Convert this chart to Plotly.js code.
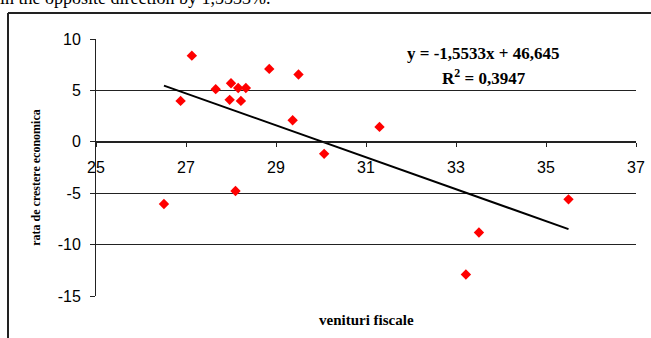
<!DOCTYPE html>
<html>
<head>
<meta charset="utf-8">
<script src="https://cdn.plot.ly/plotly-3.0.1.min.js"></script>
<style>
  html, body { margin: 0; padding: 0; background: #ffffff; }
  #chart { width: 651px; height: 338px; }
</style>
</head>
<body>
<div id="chart"></div>
<script>
// Fiscal revenues (% of GDP) vs. economic growth rate (%)
const venituriFiscale = [26.51, 26.88, 27.13, 27.66, 27.97, 28.00, 28.10, 28.16, 28.22,
                         28.33, 28.85, 29.37, 29.50, 30.07, 31.30, 33.22, 33.51, 35.50];
const rataCrestere    = [-6.05, 3.98, 8.38, 5.12, 4.08, 5.70, -4.79, 5.24, 3.98,
                         5.24, 7.09, 2.10, 6.54, -1.17, 1.45, -12.91, -8.83, -5.60];

// Linear trend as reported on the chart
const trendSlope = -1.5533;
const trendIntercept = 46.645;
const rSquared = 0.3947;

const xTicks = [25, 27, 29, 31, 33, 35, 37];
const yTicks = [-15, -10, -5, 0, 5, 10];

const fmt = (v, d) => v.toFixed(d).replace('.', ',');

const xMin = Math.min(...venituriFiscale);
const xMax = Math.max(...venituriFiscale);
const trendX = [xMin, xMax];
const trendY = trendX.map(x => trendSlope * x + trendIntercept);

// plot area in pixels: left 96, right 636, top 39, bottom 296.5
const L = 96, R = 636, T = 39, B = 296.5;
const px = v => (v - L) / (R - L);
const py = v => (B - v) / (B - T);

const serif = 'Liberation Serif, Times New Roman, serif';
const sans = 'Liberation Sans, Arial, sans-serif';

const traces = [
  {
    x: trendX, y: trendY, type: 'scatter', mode: 'lines',
    line: { color: '#000000', width: 2 }, hoverinfo: 'skip', showlegend: false
  },
  {
    x: venituriFiscale, y: rataCrestere, type: 'scatter', mode: 'markers',
    marker: { symbol: 'diamond', color: '#ff0000', size: 8 },
    showlegend: false
  }
];

const layout = {
  width: 651, height: 338,
  margin: { l: L, r: 651 - R, t: T, b: 338 - B, pad: 0 },
  paper_bgcolor: '#ffffff', plot_bgcolor: '#ffffff',
  font: { family: sans, color: '#000000', size: 16 },
  xaxis: {
    range: [25, 37], tickvals: xTicks, ticktext: xTicks.map(String),
    anchor: 'free', position: 15 / 25,
    showgrid: false, zeroline: false,
    showline: true, linecolor: '#222222', linewidth: 1,
    ticks: 'outside', ticklen: 4, tickcolor: '#222222',
    ticklabelstandoff: 7,
    tickfont: { family: sans, size: 16, color: '#000000' }
  },
  yaxis: {
    range: [-15, 10], tickvals: yTicks, ticktext: yTicks.map(String),
    showgrid: true, gridcolor: '#222222', gridwidth: 1,
    zeroline: false,
    showline: true, linecolor: '#222222', linewidth: 1,
    ticks: 'outside', ticklen: 5, tickcolor: '#222222',
    ticklabelstandoff: 6,
    tickfont: { family: sans, size: 16, color: '#000000' }
  },
  shapes: [
    // outer frame (top and left edges)
    { type: 'line', xref: 'paper', yref: 'paper', x0: px(8), x1: px(653), y0: py(13), y1: py(13),
      line: { color: '#222222', width: 2 } },
    { type: 'line', xref: 'paper', yref: 'paper', x0: px(8), x1: px(8), y0: py(13), y1: py(345),
      line: { color: '#222222', width: 2 } }
  ],
  annotations: [
    { xref: 'paper', yref: 'paper', x: px(483), y: py(54), xanchor: 'center', yanchor: 'middle',
      text: '<b>y = ' + fmt(trendSlope, 4) + 'x + ' + fmt(trendIntercept, 3) + '</b>',
      showarrow: false, font: { family: serif, size: 17, color: '#000000' } },
    { xref: 'paper', yref: 'paper', x: px(484), y: py(77), xanchor: 'center', yanchor: 'middle',
      text: '<b>R<sup>2</sup> = ' + fmt(rSquared, 4) + '</b>',
      showarrow: false, font: { family: serif, size: 17, color: '#000000' } },
    { xref: 'paper', yref: 'paper', x: px(366), y: py(321), xanchor: 'center', yanchor: 'middle',
      text: '<b>venituri fiscale</b>',
      showarrow: false, font: { family: serif, size: 15, color: '#000000' } },
    { xref: 'paper', yref: 'paper', x: px(36), y: py(178), xanchor: 'center', yanchor: 'middle',
      text: '<b>rata de crestere economica</b>', textangle: -90,
      showarrow: false, font: { family: serif, size: 12, color: '#000000' } },
    { xref: 'paper', yref: 'paper', x: px(-2), y: py(-2), xanchor: 'left', yanchor: 'middle',
      text: 'in the opposite direction by 1,5533%.',
      showarrow: false, font: { family: serif, size: 18, color: '#000000' } }
  ]
};

Plotly.newPlot('chart', traces, layout, { displayModeBar: false, staticPlot: true });
</script>
</body>
</html>
